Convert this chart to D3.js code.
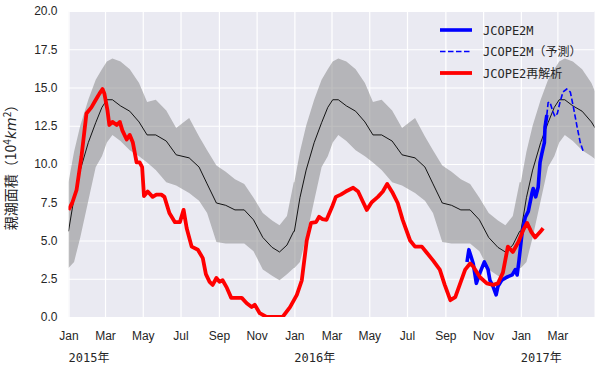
<html>
<head>
  <meta charset="utf-8">
  <script src="https://d3js.org/d3.v7.min.js"></script>
  <style>
    body{ margin:0; background:#fff; }
    svg{ display:block; font-family:"DejaVu Sans Mono","Noto Sans CJK JP",monospace; }
    .tick text{ font-size:12px; fill:#262626; }
    .legendLines text{ font-size:12px; fill:#262626; }
  </style>
</head>
<body>
  <script type="text/javascript">

    // climatology (day of year) : mean and band
    var climDoy   = [1, 10, 20, 33, 45, 55, 63, 72, 85, 100, 115, 128, 142, 159, 175, 196, 212, 225, 240, 255, 270, 285, 300, 315, 330, 342, 354, 365];
    var climMean  = [5.6, 7.8, 9.6, 11.4, 12.7, 13.7, 14.2, 14.2, 13.8, 13.45, 12.75, 11.9, 11.9, 11.5, 10.6, 10.4, 9.8, 8.7, 7.45, 7.3, 7.0, 7.0, 6.35, 5.2, 4.55, 4.25, 4.7, 5.6];
    var climUpper = [8.8, 10.8, 12.5, 14.2, 15.5, 16.2, 16.7, 16.9, 16.7, 16.2, 15.3, 14.05, 14.2, 13.5, 12.35, 13.0, 11.8, 10.9, 9.9, 9.5, 9.0, 8.7, 7.8, 6.8, 6.3, 6.0, 6.6, 8.8];
    var climLower = [3.2, 3.6, 5.2, 7.6, 9.8, 10.5, 11.4, 11.9, 11.5, 10.9, 10.5, 10.1, 9.6, 8.8, 8.6, 8.1, 7.6, 6.8, 4.9, 4.8, 4.8, 4.8, 4.3, 3.1, 2.7, 2.4, 2.8, 3.2];
    var climYears = [2015, 2016, 2017];

    // JCOPE2 reanalysis
    var reDates = ["2015-01-01","2015-01-07","2015-01-14","2015-01-22","2015-01-30","2015-02-07","2015-02-12","2015-02-17","2015-02-20","2015-02-25",
                   "2015-02-28","2015-03-05","2015-03-08","2015-03-13","2015-03-20","2015-03-25","2015-03-29","2015-04-05","2015-04-10","2015-04-15",
                   "2015-04-21","2015-04-26","2015-04-30","2015-05-03","2015-05-09","2015-05-17","2015-05-23","2015-05-31","2015-06-05","2015-06-13",
                   "2015-06-22","2015-06-30","2015-07-06","2015-07-11","2015-07-19","2015-07-29","2015-08-06","2015-08-11","2015-08-17","2015-08-22",
                   "2015-08-28","2015-09-02","2015-09-07","2015-09-14","2015-09-21","2015-09-30","2015-10-08","2015-10-16","2015-10-24","2015-10-29",
                   "2015-11-06","2015-11-17","2015-12-04","2015-12-13","2015-12-25","2016-01-05","2016-01-13","2016-01-21","2016-01-28","2016-02-05",
                   "2016-02-10","2016-02-15","2016-02-22","2016-03-02","2016-03-08","2016-03-16","2016-03-24","2016-04-05","2016-04-13","2016-04-20",
                   "2016-04-27","2016-05-05","2016-05-15","2016-05-23","2016-05-30","2016-06-08","2016-06-16","2016-06-24","2016-07-06","2016-07-14",
                   "2016-07-25","2016-08-02","2016-08-12","2016-08-23","2016-08-31","2016-09-09","2016-09-17","2016-09-25","2016-10-03","2016-10-11",
                   "2016-10-16","2016-10-27","2016-11-07","2016-11-17","2016-11-25","2016-12-03","2016-12-11","2016-12-19","2016-12-28","2017-01-05",
                   "2017-01-11","2017-01-18","2017-01-24","2017-02-01","2017-02-06"];
    var reValues = [7.0, 7.45, 8.3, 10.5, 13.3, 13.7, 14.05, 14.4, 14.6, 14.9,
                    14.6, 13.5, 12.55, 12.75, 12.55, 12.75, 12.2, 11.6, 11.9, 11.4,
                    10.1, 10.1, 9.8, 7.9, 8.2, 7.85, 8.0, 8.0, 7.85, 6.8,
                    6.2, 6.2, 7.0, 5.8, 4.6, 4.4, 3.85, 2.8, 2.3, 2.1,
                    2.55, 2.3, 2.4, 1.9, 1.25, 1.25, 1.25, 0.9, 0.65, 0.8,
                    0.25, 0.0, 0.0, 0.0, 0.65, 1.45, 2.4, 5.0, 6.15, 6.2,
                    6.55, 6.4, 6.35, 7.2, 7.85, 8.0, 8.2, 8.45, 8.2, 7.6,
                    7.0, 7.5, 7.85, 8.2, 8.7, 8.1, 7.45, 6.35, 5.0, 4.6,
                    4.6, 4.2, 3.7, 3.1, 2.1, 1.1, 1.3, 2.2, 3.1, 3.5,
                    3.3, 2.6, 2.2, 2.1, 2.2, 2.9, 4.6, 4.25, 4.9, 5.7,
                    6.15, 5.55, 5.2, 5.55, 5.8];

    // JCOPE2M
    var mDates = ["2016-10-06","2016-10-09","2016-10-16","2016-10-21","2016-10-27","2016-11-03","2016-11-09","2016-11-12","2016-11-17","2016-11-22",
                  "2016-11-25","2016-12-01","2016-12-09","2016-12-18","2016-12-23","2016-12-26","2016-12-29","2017-01-03","2017-01-08","2017-01-13",
                  "2017-01-19","2017-01-21","2017-01-25","2017-01-29","2017-02-01","2017-02-04","2017-02-08","2017-02-09","2017-02-12"];
    var mValues = [3.6, 4.4, 3.5, 2.2, 2.9, 3.6, 3.1, 2.4, 2.0, 1.45,
                   2.0, 2.4, 2.6, 2.75, 3.1, 2.75, 3.7, 5.5, 6.5, 6.9,
                   8.1, 8.4, 7.85, 8.5, 10.1, 10.7, 11.4, 12.4, 13.2];

    // JCOPE2M forecast
    var fDates = ["2017-02-12","2017-02-14","2017-02-17","2017-02-22","2017-02-25","2017-03-01","2017-03-05","2017-03-10","2017-03-16","2017-03-22",
                  "2017-03-27","2017-04-02","2017-04-07","2017-04-12"];
    var fValues = [13.2, 14.0, 14.05, 13.4, 13.1, 13.3, 14.0, 14.7, 14.9, 14.7,
                   13.7, 12.4, 11.4, 10.8];

    var yTicks = [0, 2.5, 5, 7.5, 10, 12.5, 15, 17.5, 20];
    var monthNames = ["Jan","Feb","Mar","Apr","May","Jun","Jul","Aug","Sep","Oct","Nov","Dec"];
    var seriesNames = ["JCOPE2M", "JCOPE2M（予測）", "JCOPE2再解析"];

    var parse = d3.timeParse("%Y-%m-%d");

    var screen = {width: 600, height: 370};
    var plot = {left: 68.5, right: 594.5, top: 11, bottom: 317};

    var svg = d3.select("body").append("svg")
                .attr("width", screen.width)
                .attr("height", screen.height);

    var xScale = d3.scaleTime()
                   .domain([new Date(2015, 0, 1), new Date(2017, 3, 30)])
                   .range([plot.left, plot.right]);
    var yScale = d3.scaleLinear()
                   .domain([0, 20])
                   .range([plot.bottom, plot.top]);

    svg.append("defs").append("clipPath").attr("id", "clip")
       .append("rect")
       .attr("x", plot.left).attr("y", plot.top)
       .attr("width", plot.right - plot.left)
       .attr("height", plot.bottom - plot.top);

    svg.append("rect")
       .attr("x", plot.left).attr("y", plot.top)
       .attr("width", plot.right - plot.left)
       .attr("height", plot.bottom - plot.top)
       .attr("fill", "#EAEAF2");

    // grid
    var monthTicks = d3.timeMonth.every(2).range(new Date(2015, 0, 1), new Date(2017, 3, 30));

    var xAxis = d3.axisBottom(xScale)
                  .tickValues(monthTicks)
                  .tickSize(-(plot.bottom - plot.top))
                  .tickPadding(14)
                  .tickFormat(function(d){ return monthNames[d.getMonth()] });
    var gx = svg.append("g").classed("xAxis", true)
                .attr("transform", "translate(0," + plot.bottom + ")")
                .call(xAxis);
    gx.select(".domain").remove();
    gx.selectAll("line").attr("stroke", "#fff").attr("stroke-width", 1.2);

    var yAxis = d3.axisLeft(yScale)
                  .tickValues(yTicks)
                  .tickSize(-(plot.right - plot.left))
                  .tickPadding(11)
                  .tickFormat(d3.format(".1f"));
    var gy = svg.append("g").classed("yAxis", true)
                .attr("transform", "translate(" + plot.left + ",0)")
                .call(yAxis);
    gy.select(".domain").remove();
    gy.selectAll("line").attr("stroke", "#fff").attr("stroke-width", 1.2);

    // year labels
    svg.append("g").selectAll("text")
       .data(climYears)
       .enter()
       .append("text")
       .attr("x", function(d){ return xScale(new Date(d, 0, 1)) })
       .attr("y", 362)
       .attr("font-size", 12)
       .attr("fill", "#262626")
       .text(function(d){ return d + "年" });

    // climatology data
    var clim = [];
    climYears.forEach(function(yr){
      climDoy.forEach(function(doy, i){
        clim.push({date: new Date(yr, 0, doy), mean: climMean[i], hi: climUpper[i], lo: climLower[i]});
      });
    });

    var plotLand = svg.append("g").attr("clip-path", "url(#clip)");

    plotLand.append("path")
            .datum(clim)
            .attr("fill", "#808080")
            .attr("fill-opacity", 0.5)
            .attr("d", d3.area()
                         .x(function(d){ return xScale(d.date) })
                         .y0(function(d){ return yScale(d.lo) })
                         .y1(function(d){ return yScale(d.hi) }));

    var line = d3.line()
                 .x(function(d){ return xScale(d.date) })
                 .y(function(d){ return yScale(d.v) });

    plotLand.append("path")
            .datum(clim.map(function(d){ return {date: d.date, v: d.mean} }))
            .attr("fill", "none")
            .attr("stroke", "#000")
            .attr("stroke-width", 0.9)
            .attr("d", line);

    function series(dates, values){
      return dates.map(function(s, i){ return {date: parse(s), v: values[i]} });
    }

    plotLand.append("path")
            .datum(series(mDates, mValues))
            .attr("fill", "none")
            .attr("stroke", "#0000ff")
            .attr("stroke-width", 3.6)
            .attr("stroke-linejoin", "round")
            .attr("d", line);

    plotLand.append("path")
            .datum(series(fDates, fValues))
            .attr("fill", "none")
            .attr("stroke", "#0000ff")
            .attr("stroke-width", 1.6)
            .attr("stroke-dasharray", "5.5,2.5")
            .attr("d", line);

    plotLand.append("path")
            .datum(series(reDates, reValues))
            .attr("fill", "none")
            .attr("stroke", "#ff0000")
            .attr("stroke-width", 3.8)
            .attr("stroke-linejoin", "round")
            .attr("d", line);

    // y label
    var ylab = svg.append("text")
                  .attr("transform", "translate(16,164) rotate(-90)")
                  .attr("text-anchor", "middle")
                  .attr("font-family", "Noto Sans CJK JP, DejaVu Sans, sans-serif")
                  .attr("font-size", 14)
                  .attr("fill", "#262626");
    ylab.append("tspan").text("親潮面積（10");
    ylab.append("tspan").attr("font-size", 10).attr("dy", -5).text("4");
    ylab.append("tspan").attr("font-style", "italic").attr("dy", 5).attr("font-family", "DejaVu Sans").text("km");
    ylab.append("tspan").attr("font-size", 10).attr("dy", -5).text("2");
    ylab.append("tspan").attr("dy", 5).text("）");

    // legend
    var legendStyle = [
      {color: "#0000ff", width: 3.6, dash: null},
      {color: "#0000ff", width: 1.6, dash: "5.5,2.5"},
      {color: "#ff0000", width: 3.8, dash: null}
    ];
    var legend = svg.append("g").attr("transform", "translate(440,30)");
    var legendLines = legend.selectAll("g")
                            .data(seriesNames)
                            .enter()
                            .append("g")
                            .classed("legendLines", true)
                            .attr("transform", function(d, i){ return "translate(0," + i * 21.5 + ")" });
    legendLines.append("line")
               .attr("x1", 0).attr("x2", 32)
               .attr("y1", 0).attr("y2", 0)
               .attr("stroke", function(d, i){ return legendStyle[i].color })
               .attr("stroke-width", function(d, i){ return legendStyle[i].width })
               .attr("stroke-dasharray", function(d, i){ return legendStyle[i].dash });
    legendLines.append("text")
               .attr("x", 43)
               .attr("y", 4.5)
               .text(function(d){ return d });

  </script>
</body>
</html>
